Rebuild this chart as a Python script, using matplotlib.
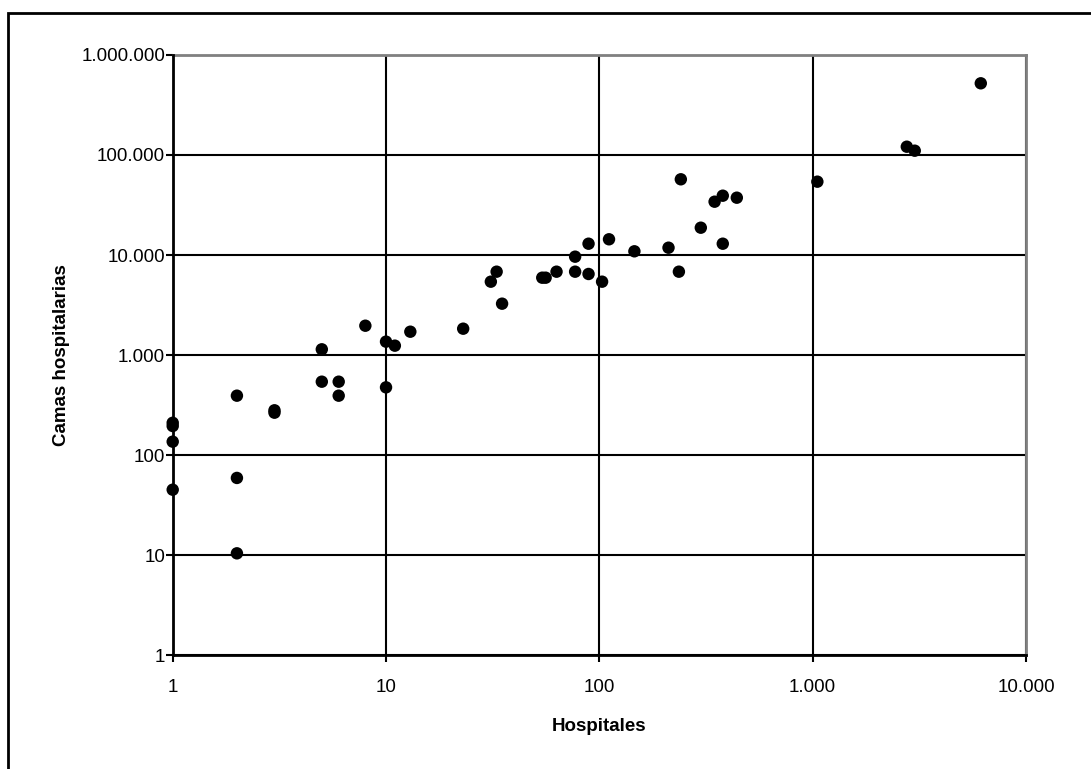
import matplotlib.pyplot as plt
from matplotlib.patches import Rectangle
from matplotlib.ticker import FuncFormatter, FixedLocator, NullLocator

plt.rcParams['font.family'] = ['Liberation Sans', 'DejaVu Sans']

# Values (log-log scatter)
hospitales = [1, 1, 1, 1, 2, 2, 2, 3, 3, 5, 5, 6, 6, 8, 10, 10, 11, 13, 23,
              31, 33, 35, 54, 56, 63, 77, 77, 89, 89, 103, 111, 146, 211,
              236, 241, 299, 347, 379, 379, 441, 1052, 2763, 3010, 6140]
camas = [210, 195, 136, 45, 392, 59, 10.4, 265, 280, 1140, 541, 541, 392,
         1963, 1360, 475, 1240, 1710, 1833, 5410, 6810, 3260, 5930, 5930,
         6810, 6810, 9620, 6460, 12970, 5410, 14360, 10890, 11830, 6810,
         57150, 18750, 34120, 39170, 12970, 37410, 54100, 121000, 110400,
         521000]

x_ticks = [1, 10, 100, 1000, 10000]
y_ticks = [1, 10, 100, 1000, 10000, 100000, 1000000]


def miles(v, pos=None):
    return f'{int(round(v)):,}'.replace(',', '.')


fig = plt.figure(figsize=(10.91, 7.69), dpi=100)
ax = fig.add_axes([0.1583, 0.1482, 0.7821, 0.7803])

ax.set_xscale('log')
ax.set_yscale('log')
ax.set_xlim(1, 10000)
ax.set_ylim(1, 1000000)

ax.scatter(hospitales, camas, s=80, color='black', edgecolors='none',
           zorder=3, clip_on=False)

ax.xaxis.set_major_locator(FixedLocator(x_ticks))
ax.yaxis.set_major_locator(FixedLocator(y_ticks))
ax.xaxis.set_minor_locator(NullLocator())
ax.yaxis.set_minor_locator(NullLocator())
ax.xaxis.set_major_formatter(FuncFormatter(miles))
ax.yaxis.set_major_formatter(FuncFormatter(miles))

ax.grid(True, which='major', color='black', linewidth=1.5)
ax.set_axisbelow(True)
ax.tick_params(axis='both', which='major', direction='out', length=5,
               width=1.5, labelsize=13.5, color='black')
ax.tick_params(axis='x', pad=12)
ax.tick_params(axis='y', pad=0.5)

for side in ['top', 'right']:
    ax.spines[side].set_color('#808080')
    ax.spines[side].set_linewidth(2)
for side in ['left', 'bottom']:
    ax.spines[side].set_color('black')
    ax.spines[side].set_linewidth(2)
    ax.spines[side].set_zorder(4)

ax.set_xlabel('Hospitales', fontsize=13.5, fontweight='bold', labelpad=16)
ax.set_ylabel('Camas hospitalarias', fontsize=13.5, fontweight='bold',
              labelpad=8)

# outer chart border (right and bottom edges fall outside the picture)
fig.patches.append(Rectangle((8 / 1091, -0.05), 1.2, 1.05 - 13 / 769,
                             transform=fig.transFigure, fill=False,
                             edgecolor='black', linewidth=2))

fig.savefig('out.png', dpi=100, facecolor='white')
